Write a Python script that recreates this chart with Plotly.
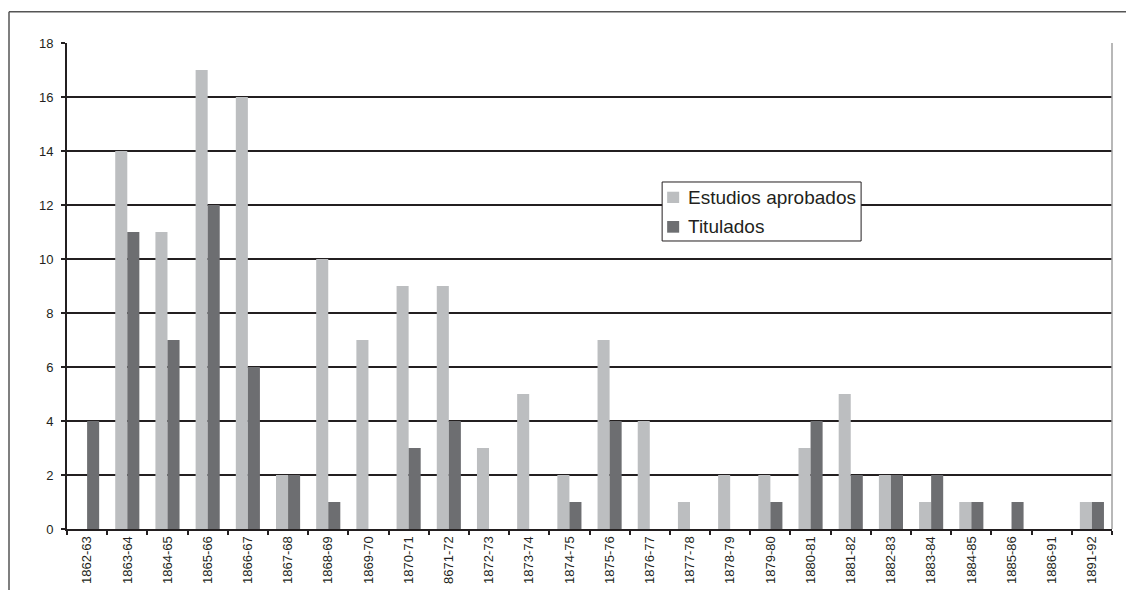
import plotly.graph_objects as go

# Academic years and counts per year
periodos = ["1862-63", "1863-64", "1864-65", "1865-66", "1866-67", "1867-68",
            "1868-69", "1869-70", "1870-71", "8671-72", "1872-73", "1873-74",
            "1874-75", "1875-76", "1876-77", "1877-78", "1878-79", "1879-80",
            "1880-81", "1881-82", "1882-83", "1883-84", "1884-85", "1885-86",
            "1886-91", "1891-92"]
estudios_aprobados = [0, 14, 11, 17, 16, 2, 10, 7, 9, 9, 3, 5, 2, 7, 4, 1,
                      2, 2, 3, 5, 2, 1, 1, 0, 0, 1]
titulados = [4, 11, 7, 12, 6, 2, 1, 0, 3, 4, 0, 0, 1, 4, 0, 0,
             0, 1, 4, 2, 2, 2, 1, 1, 0, 1]
y_ticks = list(range(0, 19, 2))

FONT = "Liberation Sans, Arial, sans-serif"
INK = "#231f20"
LIGHT = "#bcbec0"
DARK = "#6d6e71"

fig = go.Figure()
fig.add_trace(go.Bar(name="Estudios aprobados", x=periodos, y=estudios_aprobados,
                     marker=dict(color=LIGHT, line=dict(width=0))))
fig.add_trace(go.Bar(name="Titulados", x=periodos, y=titulados,
                     marker=dict(color=DARK, line=dict(width=0))))

# Outer frame (top and left edges) and thin right border of the plot area
fig.add_shape(type="line", xref="paper", yref="paper",
              x0=-0.0555, x1=1.05, y0=1.0645, y1=1.0645,
              line=dict(color="#555555", width=1.5))
fig.add_shape(type="line", xref="paper", yref="paper",
              x0=-0.0555, x1=-0.0555, y0=1.0645, y1=-0.2,
              line=dict(color="#555555", width=1.5))
fig.add_shape(type="line", xref="paper", yref="paper",
              x0=1, x1=1, y0=0, y1=1,
              line=dict(color="#a0a0a0", width=1.5))

# Compact boxed legend inside the plot area
fig.add_shape(type="rect", xref="paper", yref="paper",
              x0=0.5695, x1=0.7599, y0=0.5926, y1=0.714,
              fillcolor="white", line=dict(color=INK, width=1))
legend_rows = [
    (fig.data[0].name, LIGHT, 0.6708, 0.6940, 0.6821),
    (fig.data[1].name, DARK, 0.6097, 0.6337, 0.6214),
]
for label, color, y0, y1, ym in legend_rows:
    fig.add_shape(type="rect", xref="paper", yref="paper",
                  x0=0.5743, x1=0.5858, y0=y0, y1=y1,
                  fillcolor=color, line=dict(width=0))
    fig.add_annotation(xref="paper", yref="paper", x=0.5925, y=ym,
                       xanchor="left", yanchor="middle", showarrow=False,
                       text=label, font=dict(family=FONT, size=19, color=INK))

fig.update_layout(
    width=1126, height=590,
    margin=dict(l=67, r=14, t=43, b=61),
    paper_bgcolor="white", plot_bgcolor="white",
    barmode="group", bargap=0.4, bargroupgap=0,
    font=dict(family=FONT, color=INK),
    showlegend=False,
)
fig.update_xaxes(
    type="category", tickangle=-90, automargin=False,
    tickfont=dict(family=FONT, size=13, color=INK),
    showline=True, linecolor=INK, linewidth=2,
    ticks="outside", tickson="boundaries", ticklen=4, tickwidth=1.5,
    tickcolor=INK, showgrid=False,
)
fig.update_yaxes(
    range=[0, 18], tickvals=y_ticks, automargin=False,
    tickfont=dict(family=FONT, size=13, color=INK),
    showline=True, linecolor=INK, linewidth=2,
    ticks="outside", ticklen=4, tickwidth=1.5, tickcolor=INK,
    ticklabelstandoff=5,
    showgrid=True, gridcolor=INK, gridwidth=2, zeroline=False,
)

fig.write_html("out.html")
